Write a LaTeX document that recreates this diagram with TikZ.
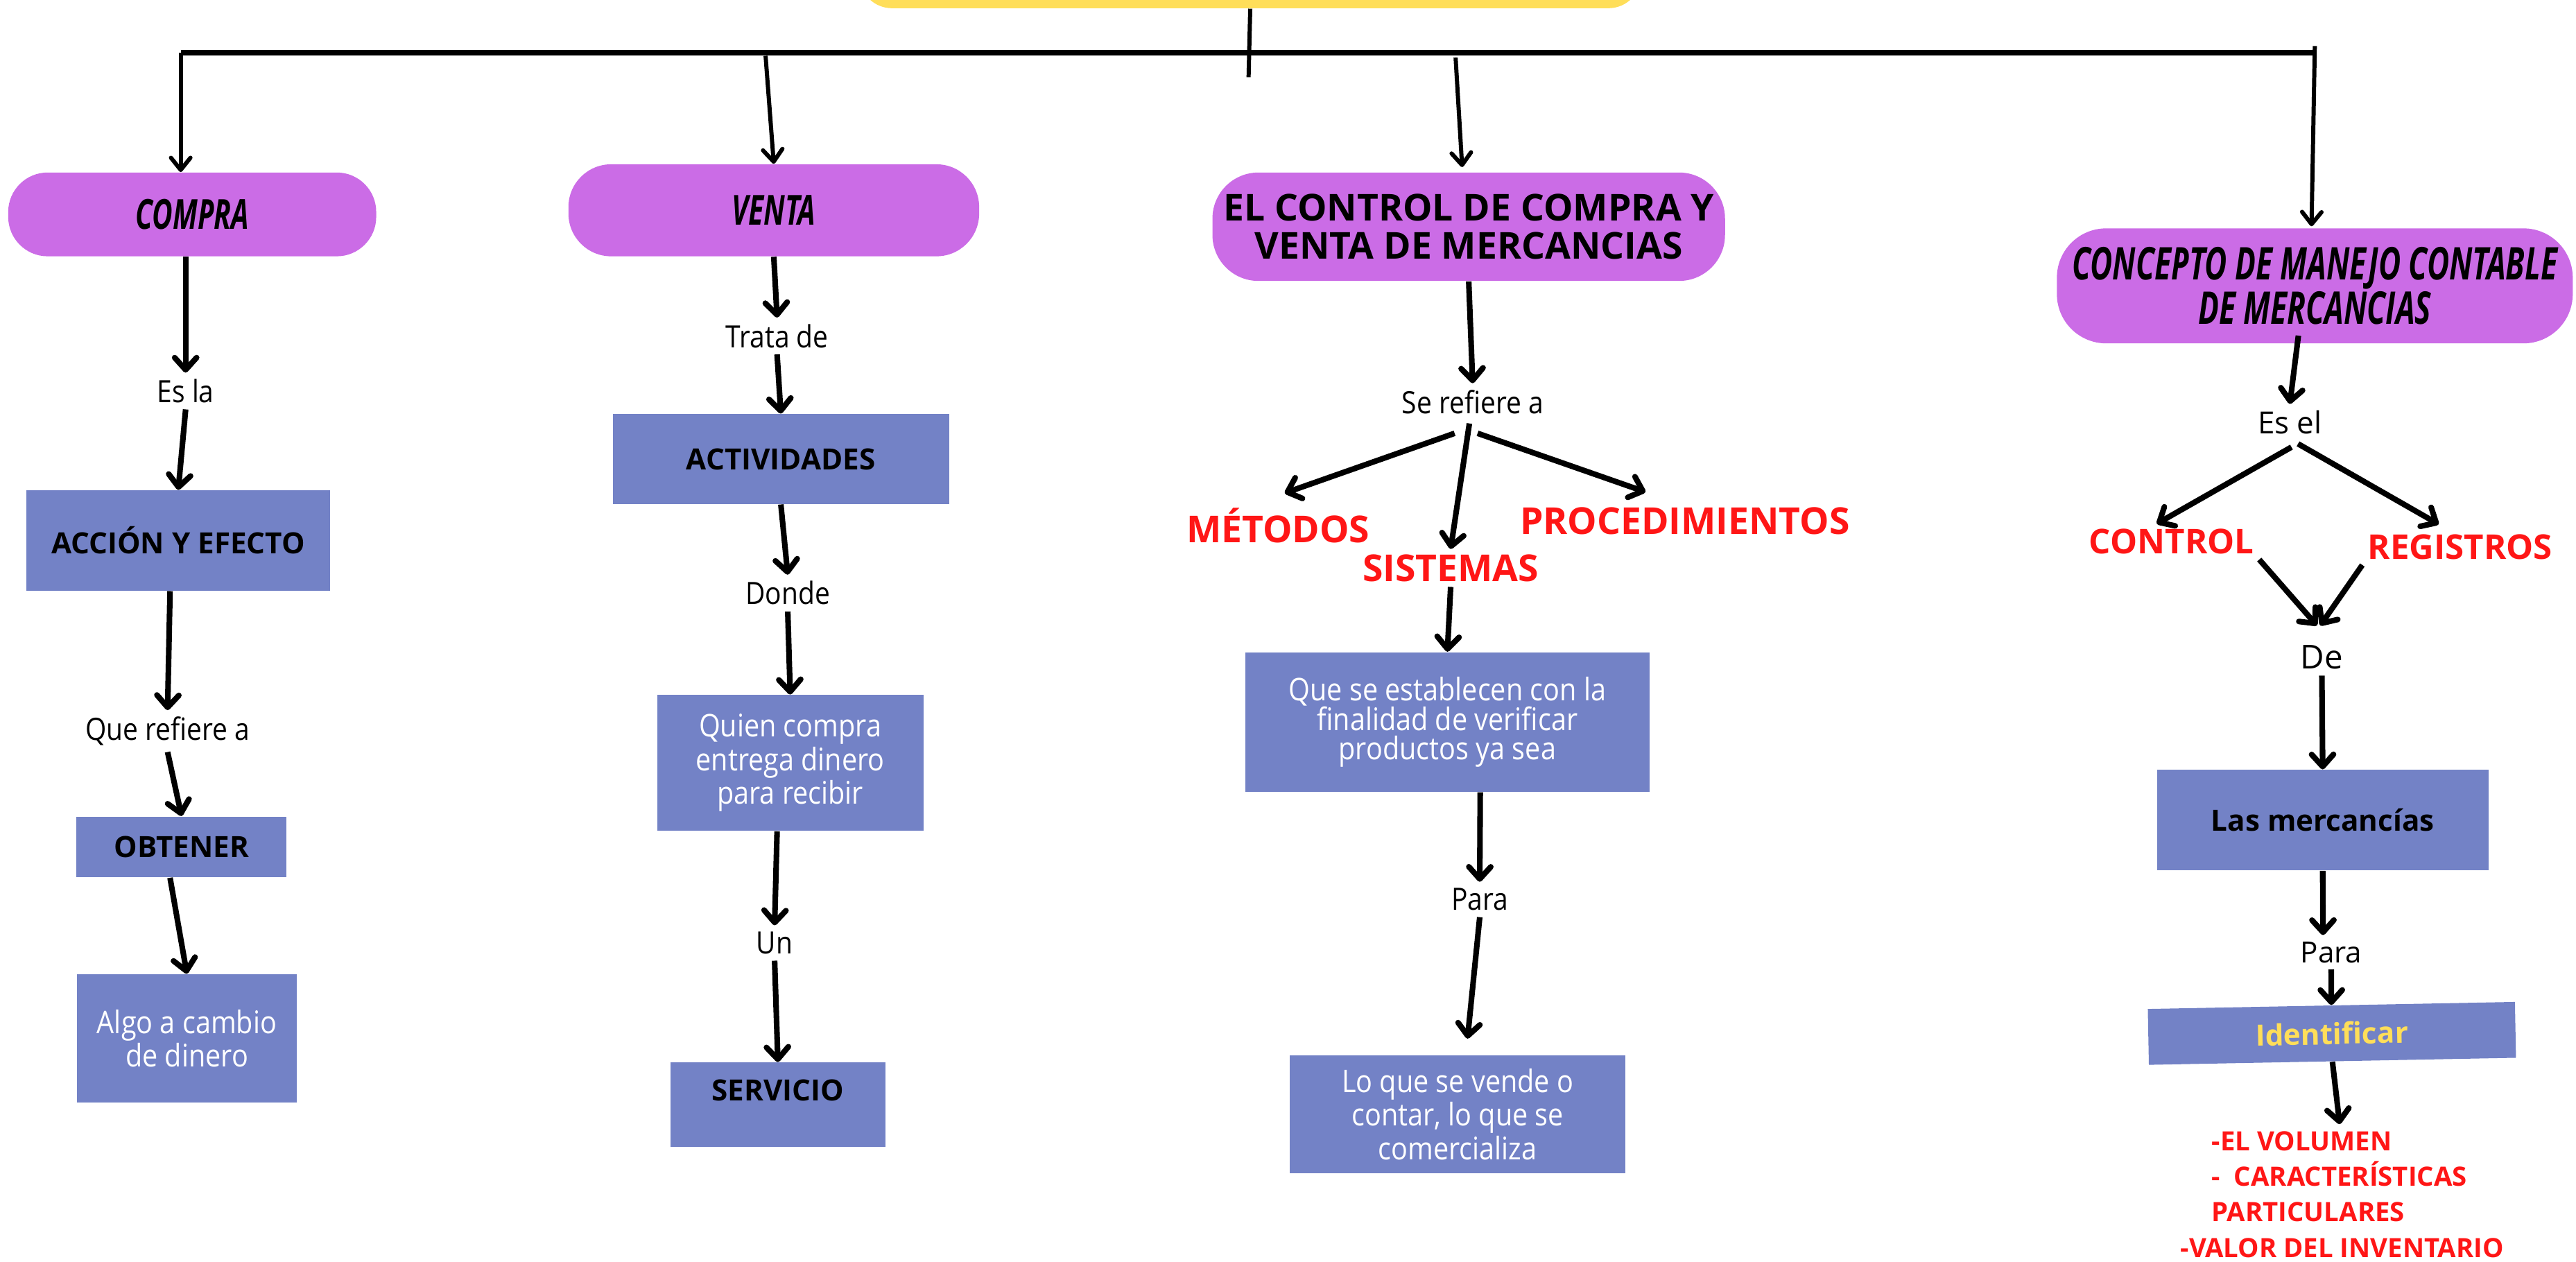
\documentclass[tikz,border=0pt]{standalone}
\usepackage{fontspec}
\setmainfont{Open Sans}
\newfontfamily\headfont[FakeStretch=0.68]{Open Sans}
\newfontfamily\condfont[FakeStretch=0.88]{Open Sans}
\usetikzlibrary{arrows.meta,calc}
\definecolor{titleyellow}{HTML}{FFDE59}
\definecolor{headpurple}{HTML}{CB6CE6}
\definecolor{boxblue}{HTML}{7382C6}
\definecolor{keyred}{HTML}{FF1616}
\newdimen\pxu \pxu=0.2369mm

\begin{document}
\begin{tikzpicture}[x=0.2369mm,y=-0.2369mm,
  boxsize/.style 2 args={minimum width=#1*\pxu,minimum height=#2*\pxu},
  headbox/.style={fill=headpurple,inner sep=0pt,align=center},
  infobox/.style={fill=boxblue,inner sep=0pt,align=center},
  boxtitle/.style={font=\bfseries\fontsize{12}{14}\selectfont},
  boxtext/.style={text=white,font=\condfont\fontsize{12.8}{12}\selectfont},
  linklabel/.style={inner sep=2.5pt,font=\condfont\fontsize{12.6}{13}\selectfont},
  keyword/.style={text=keyred,inner sep=2pt,font=\bfseries\fontsize{15.2}{17}\selectfont},
  link/.style={line width=2.3pt,-{Straight Barb[length=5pt,width=9pt,round]}},
  toplink/.style={line width=1.7pt,-{Straight Barb[length=5pt,width=8pt,round]}}]

\useasboundingbox (0,0) rectangle (1568,768);
\clip (0,0) rectangle (1568,768);

\node[fill=titleyellow,rounded corners=20*\pxu,boxsize={476}{60}] (titulo) at (761,-25) {};
\coordinate (tope) at (760,47);
\coordinate (barL) at (110,32);
\coordinate (barR) at (1409,32);
\coordinate (barV) at (466,34);
\coordinate (barC) at (886,35);

% compra
\node[headbox,rounded corners=24*\pxu,boxsize={224}{51},font=\headfont\bfseries\itshape\fontsize{17}{17}\selectfont] (compra) at (117,130.5) {COMPRA};
\node[linklabel] (esla) at (113,238) {Es la};
\node[infobox,boxtitle,boxsize={185}{61}] (accion) at (108.5,329) {ACCIÓN Y EFECTO};
\node[linklabel] (querefiere) at (102,445) {Que refiere a};
\node[infobox,boxtitle,boxsize={128}{37}] (obtener) at (110.5,515.5) {OBTENER};
\node[infobox,boxtext,boxsize={133.5}{78}] (algo) at (113.75,632) {Algo a cambio\\de dinero};

% venta
\node[headbox,rounded corners=26*\pxu,boxsize={250}{56},font=\headfont\bfseries\itshape\fontsize{17}{17}\selectfont] (venta) at (471,128) {VENTA};
\node[linklabel] (tratade) at (473,204.5) {Trata de};
\node[infobox,boxtitle,boxsize={204.6}{54.7}] (actividades) at (475.3,279.4) {ACTIVIDADES};
\node[linklabel] (donde) at (479.5,361) {Donde};
\node[infobox,boxtext,boxsize={162}{82.7}] (quien) at (481,464.4) {Quien compra\\entrega dinero\\para recibir};
\node[linklabel] (un) at (471.5,574) {Un};
\node[infobox,boxtitle,boxsize={131}{51.3},text depth=12pt] (servicio) at (473.5,672.4) {SERVICIO};

% control de compra y venta
\node[headbox,rounded corners=28*\pxu,boxsize={312}{66},font=\bfseries\fontsize{15.2}{15.5}\selectfont] (control) at (894,138) {EL CONTROL DE COMPRA Y\\VENTA DE MERCANCIAS};
\node[linklabel] (serefiere) at (896.4,244.5) {Se refiere a};
\node[keyword] (metodos) at (778,320) {MÉTODOS};
\node[keyword] (sistemas) at (883,345.7) {SISTEMAS};
\node[keyword] (procedimientos) at (1025.6,317) {PROCEDIMIENTOS};
\node[infobox,boxtext,boxsize={246}{85}] (establecen) at (881,439.5) {Que se establecen con la\\finalidad de verificar\\productos ya sea};
\node[linklabel] (para) at (900.7,547.5) {Para};
\node[infobox,boxtext,boxsize={204.5}{71.5}] (vende) at (887.25,678.25) {Lo que se vende o\\contar, lo que se\\comercializa};

% manejo contable
\node[headbox,rounded corners=30*\pxu,boxsize={314}{70},font=\headfont\bfseries\itshape\fontsize{18.5}{17.1}\selectfont] (concepto) at (1409,174) {CONCEPTO DE MANEJO CONTABLE\\DE MERCANCIAS};
\node[linklabel,font=\fontsize{12.5}{14}\selectfont] (esel) at (1393.8,257) {Es el};
\node[keyword,font=\bfseries\fontsize{14}{16}\selectfont] (control2) at (1321.8,329.7) {CONTROL};
\node[keyword,font=\bfseries\fontsize{14}{16}\selectfont] (registros) at (1497.4,333) {REGISTROS};
\node[linklabel,font=\fontsize{13.5}{15}\selectfont] (de) at (1413.3,400) {De};
\node[infobox,boxtitle,boxsize={201.6}{61.2}] (mercancias) at (1413.8,499.2) {Las mercancías};
\node[linklabel,font=\fontsize{12}{14}\selectfont] (para2) at (1419,579.6) {Para};
\node[infobox,boxsize={223.5}{34},rotate=1.1,text=titleyellow,font=\bfseries\fontsize{12}{14}\selectfont] (identificar) at (1419.4,629) {Identificar};
\node[keyword,align=left,anchor=west,inner sep=0pt,font=\bfseries\fontsize{10.9}{14.6}\selectfont] (lista) at (1346,727) {-EL VOLUMEN\\-~~CARACTERÍSTICAS\\PARTICULARES\\\hspace*{-4.5mm}-VALOR DEL INVENTARIO};

\draw[line width=1.7pt] (titulo.south) -- (tope);
\draw[line width=2.4pt] (barL) -- (barR);
\draw[toplink] (barL) -- (barL |- compra.north);
\draw[toplink] (barV) -- (venta.north);
\draw[toplink] (barC) -- ($(control.north)+(-4,-3)$);
\draw[toplink] ($(barR)+(0,-4)$) -- ($(concepto.north)+(-2,-1)$);

\draw[link] ($(compra.south)+(-4,0)$) -- (esla.north);
\draw[link] (esla.south) -- (accion.north);
\draw[link] ($(accion.south)+(-5,0)$) -- (querefiere.north);
\draw[link] (querefiere.south) -- (obtener.north);
\draw[link] ($(obtener.south)+(-7,0)$) -- (algo.north);

\draw[link] (venta.south) -- (tratade.north);
\draw[link] (tratade.south) -- (actividades.north);
\draw[link] (actividades.south) -- (donde.north);
\draw[link] (donde.south) -- (quien.north);
\draw[link] ($(quien.south)+(-8,0)$) -- (un.north);
\draw[link] (un.south) -- (servicio.north);

\draw[link] (control.south) -- (serefiere.north);
\draw[link] ($(serefiere.south)+(-11,8)$) -- ($(metodos.north)+(4,-6)$);
\draw[link] ($(serefiere.south)+(-2,2)$) -- (sistemas.north);
\draw[link] ($(serefiere.south)+(3,8)$) -- ($(procedimientos.north)+(-24,-6)$);
\draw[link] (sistemas.south) -- (establecen.north);
\draw[link] ($(establecen.south)+(20,0)$) -- (para.north);
\draw[link] (para.south) -- ($(vende.north)+(6,-10)$);

\draw[link] ($(concepto.south)+(-10,-5)$) -- (esel.north);
\draw[link] ($(esel.south)+(1,4)$) -- ($(control2.north)+(-9,0)$);
\draw[link] ($(esel.south)+(5,2)$) -- ($(registros.north)+(-13,-3)$);
\draw[link] (control2.south east) -- ($(de.north)+(-3,-8)$);
\draw[link] (registros.south west) -- ($(de.north)+(-1,-8)$);
\draw[link] (de.south) -- (mercancias.north);
\draw[link] (mercancias.south) -- ($(para2.north)+(-5,0)$);
\draw[link] (para2.south) -- (identificar.north);
\draw[link] (identificar.south) -- ($(lista.north)+(-11,-4)$);
\end{tikzpicture}
\end{document}
